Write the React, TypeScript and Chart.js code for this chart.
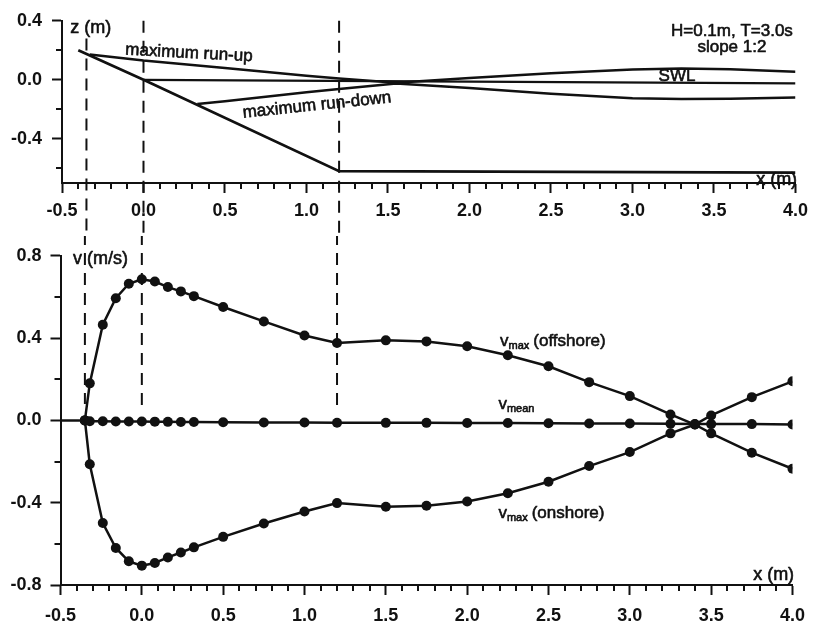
import React, { useEffect, useRef } from 'react';
import { Chart, registerables } from 'chart.js';

Chart.register(...registerables);

// ---------- Top panel: profile and run-up / run-down envelopes ----------
const profileX = [-0.4, 0, 1.2, 4.0];
const profileZ = [0.2, 0, -0.62, -0.63];
const swlX = [0, 4.0];
const swlZ = [0, -0.025];
const runUpX = [-0.33, 0, 0.5, 1.0, 1.2, 1.55, 2.0, 2.5, 3.0, 3.3, 3.6, 4.0];
const runUpZ = [0.172, 0.13, 0.08, 0.028, 0.008, -0.02, 0.012, 0.045, 0.07, 0.077, 0.072, 0.055];
const runDownX = [0.33, 0.5, 1.0, 1.2, 1.55, 2.0, 2.5, 3.0, 3.3, 3.6, 4.0];
const runDownZ = [-0.164, -0.145, -0.085, -0.063, -0.025, -0.055, -0.095, -0.125, -0.13, -0.128, -0.12];

// dashed reference verticals (x positions), their upper end in the top panel, lower end in the bottom panel
const markerX = [-0.35, 0, 1.2];
const markerTopZ = [0.28, 0.4, 0.4];
const markerEndV = [0.08, 0.06, 0.05];
const TOP_DASH_FAR = -1.2; // continues past the top panel's axis
const BOTTOM_DASH_FAR = 1.3; // enters the bottom panel from above

// ---------- Bottom panel: velocities ----------
const vX = [-0.35, -0.32, -0.24, -0.16, -0.08, 0, 0.08, 0.16, 0.24, 0.32, 0.5, 0.75, 1.0, 1.2, 1.5, 1.75, 2.0, 2.25, 2.5, 2.75, 3.0, 3.25, 3.4, 3.5, 3.75, 4.0];
const vOffshore = [0, 0.18, 0.465, 0.594, 0.664, 0.686, 0.675, 0.648, 0.627, 0.604, 0.551, 0.481, 0.413, 0.376, 0.389, 0.384, 0.36, 0.317, 0.263, 0.186, 0.118, 0.029, -0.02, -0.063, -0.157, -0.235];
const vOnshore = [0, -0.213, -0.499, -0.62, -0.685, -0.706, -0.693, -0.666, -0.642, -0.617, -0.566, -0.501, -0.443, -0.402, -0.42, -0.415, -0.394, -0.354, -0.298, -0.222, -0.154, -0.063, -0.02, 0.024, 0.113, 0.19];
const vMean = [0, -0.004, -0.004, -0.005, -0.005, -0.005, -0.006, -0.007, -0.008, -0.008, -0.009, -0.01, -0.01, -0.011, -0.012, -0.012, -0.013, -0.013, -0.014, -0.015, -0.015, -0.016, -0.018, -0.018, -0.018, -0.02];
const zeroLineX = [-0.5, -0.35];
const zeroLineV = [0, 0];

// ---------- Ticks ----------
const xMajorTicks = [-0.5, 0, 0.5, 1.0, 1.5, 2.0, 2.5, 3.0, 3.5, 4.0];
const zMajorTicks = [-0.4, 0, 0.4];
const zMinorTicks = [-0.6, -0.2, 0.2];
const vMajorTicks = [-0.8, -0.4, 0, 0.4, 0.8];
const vMinorTicks = [-0.6, -0.2, 0.2, 0.6];
const xMinorTicks: number[] = [];
for (let i = 0; i <= 45; i++) {
  if (i % 5 !== 0) xMinorTicks.push(Math.round((-0.5 + i * 0.1) * 10) / 10);
}

const INK = '#111111';
const FONT = '"Liberation Sans", Arial, Helvetica, sans-serif';

type Note = {
  text: string;
  x: number;
  y: number;
  align?: CanvasTextAlign;
  rot?: number;
  size?: number;
  sub?: string;
  rest?: string;
};

const topNotes: Note[] = [
  { text: 'z (m)', x: -0.45, y: 0.353, align: 'left', size: 18 },
  { text: 'maximum run-up', x: 0.279, y: 0.18, rot: 3, size: 17 },
  { text: 'maximum run-down', x: 1.064, y: -0.173, rot: -6, size: 17 },
  { text: 'SWL', x: 3.273, y: 0.023, size: 17 },
  { text: 'H=0.1m, T=3.0s', x: 3.61, y: 0.33, size: 17 },
  { text: 'slope 1:2', x: 3.61, y: 0.22, size: 17 },
  { text: 'x (m)', x: 4.01, y: -0.68, align: 'right', size: 18 },
];

const bottomNotes: Note[] = [
  { text: 'v (m/s)', x: -0.423, y: 0.783, align: 'left', size: 18 },
  { text: 'v', sub: 'max', rest: '(offshore)', x: 2.202, y: 0.36, size: 17 },
  { text: 'v', sub: 'mean', rest: '', x: 2.192, y: 0.054, size: 17 },
  { text: 'v', sub: 'max', rest: '(onshore)', x: 2.192, y: -0.472, size: 17 },
  { text: 'x (m)', x: 4.01, y: -0.752, align: 'right', size: 18 },
];

const fmt = (v: number) => (Math.abs(v) < 1e-9 ? '0.0' : v.toFixed(1));

function pts(xs: number[], ys: number[]) {
  return xs.map((x, i) => ({ x, y: ys[i] }));
}

function heavyText(ctx: CanvasRenderingContext2D, t: string, x: number, y: number) {
  ctx.fillText(t, x, y);
  ctx.strokeText(t, x, y);
}

function annotPlugin(notes: Note[], minorX: number[], minorY: number[]) {
  return {
    id: 'annot',
    afterDraw(chart: any) {
      const ctx: CanvasRenderingContext2D = chart.ctx;
      const xs = chart.scales.x;
      const ys = chart.scales.y;
      const { left, bottom } = chart.chartArea;
      ctx.save();
      ctx.strokeStyle = INK;
      ctx.lineWidth = 2;
      minorX.forEach((v) => {
        const p = Math.round(xs.getPixelForValue(v));
        ctx.beginPath();
        ctx.moveTo(p, bottom);
        ctx.lineTo(p, bottom + 6);
        ctx.stroke();
      });
      minorY.forEach((v) => {
        const p = Math.round(ys.getPixelForValue(v));
        ctx.beginPath();
        ctx.moveTo(left, p);
        ctx.lineTo(left - 6, p);
        ctx.stroke();
      });
      ctx.fillStyle = INK;
      ctx.lineWidth = 0.6;
      ctx.lineJoin = 'round';
      notes.forEach((n) => {
        const px = xs.getPixelForValue(n.x);
        const py = ys.getPixelForValue(n.y);
        const size = n.size || 17;
        ctx.save();
        ctx.translate(px, py);
        if (n.rot) ctx.rotate((n.rot * Math.PI) / 180);
        if (n.sub !== undefined) {
          ctx.textAlign = 'left';
          ctx.textBaseline = 'alphabetic';
          ctx.font = `${size}px ${FONT}`;
          heavyText(ctx, n.text, 0, 0);
          let w = ctx.measureText(n.text).width;
          ctx.font = `11px ${FONT}`;
          heavyText(ctx, n.sub, w, 3);
          w += ctx.measureText(n.sub).width + 4;
          if (n.rest) {
            ctx.font = `${size}px ${FONT}`;
            heavyText(ctx, n.rest, w, 0);
          }
        } else {
          ctx.textAlign = n.align || 'center';
          ctx.textBaseline = 'middle';
          ctx.font = `${size}px ${FONT}`;
          heavyText(ctx, n.text, 0, 0);
        }
        ctx.restore();
      });
      ctx.restore();
    },
  };
}

function xScale(min: number, max: number, height: number, pad: number) {
  return {
    type: 'linear',
    min,
    max,
    afterBuildTicks: (s: any) => {
      s.ticks = xMajorTicks.map((v) => ({ value: v }));
    },
    afterFit: (s: any) => {
      s.height = height;
    },
    grid: { drawOnChartArea: false, drawTicks: true, tickLength: 10, tickWidth: 2, tickColor: INK },
    border: { display: true, color: INK, width: 2 },
    ticks: {
      color: INK,
      font: { family: FONT, size: 18, weight: 'bold' },
      padding: pad,
      maxRotation: 0,
      autoSkip: false,
      callback: (v: any) => fmt(Number(v)),
    },
  };
}

function yScale(min: number, max: number, majors: number[], width: number, pad: number) {
  return {
    type: 'linear',
    min,
    max,
    afterBuildTicks: (s: any) => {
      s.ticks = majors.map((v) => ({ value: v }));
    },
    afterFit: (s: any) => {
      s.width = width;
    },
    grid: { drawOnChartArea: false, drawTicks: true, tickLength: 10, tickWidth: 2, tickColor: INK },
    border: { display: true, color: INK, width: 2 },
    ticks: {
      color: INK,
      font: { family: FONT, size: 18, weight: 'bold' },
      padding: pad,
      autoSkip: false,
      callback: (v: any) => fmt(Number(v)),
    },
  };
}

const lineDs = (data: any[], width = 2.5, extra: any = {}) => ({
  data,
  showLine: true,
  borderColor: INK,
  borderWidth: width,
  pointRadius: 0,
  fill: false,
  tension: 0,
  ...extra,
});

const dotDs = (data: any[]) => ({
  data,
  showLine: true,
  borderColor: INK,
  borderWidth: 2.5,
  pointRadius: 5,
  pointBackgroundColor: INK,
  pointBorderColor: INK,
  pointBorderWidth: 0,
  fill: false,
  tension: 0,
});

export default function App() {
  const topRef = useRef<HTMLCanvasElement>(null);
  const botRef = useRef<HTMLCanvasElement>(null);

  useEffect(() => {
    const dashTop = markerX.map((x, i) =>
      lineDs(pts([x, x], [markerTopZ[i], TOP_DASH_FAR]), 2, { borderDash: [12, 8], clip: false })
    );
    const top = new Chart(topRef.current as HTMLCanvasElement, {
      type: 'scatter',
      data: {
        datasets: [
          lineDs(pts(profileX, profileZ), 2.8),
          lineDs(pts(swlX, swlZ), 2.2),
          lineDs(pts(runUpX, runUpZ), 2.5),
          lineDs(pts(runDownX, runDownZ), 2.5),
          ...dashTop,
        ] as any,
      },
      options: {
        responsive: false,
        maintainAspectRatio: false,
        animation: false,
        events: [],
        layout: { padding: { left: 0, right: 19, top: 18, bottom: 0 } },
        plugins: { legend: { display: false }, tooltip: { enabled: false } },
        scales: {
          x: xScale(-0.5, 4.0, 53, 7) as any,
          y: yScale(-0.7, 0.4, zMajorTicks, 62, 10) as any,
        },
      },
      plugins: [annotPlugin(topNotes, xMinorTicks, zMinorTicks)],
    });

    const dashBot = markerX.map((x, i) =>
      lineDs(pts([x, x], [BOTTOM_DASH_FAR, markerEndV[i]]), 2, { borderDash: [12, 8], clip: false })
    );
    const bot = new Chart(botRef.current as HTMLCanvasElement, {
      type: 'scatter',
      data: {
        datasets: [
          lineDs(pts(zeroLineX, zeroLineV), 2.5),
          dotDs(pts(vX, vMean)),
          dotDs(pts(vX, vOffshore)),
          dotDs(pts(vX, vOnshore)),
          ...dashBot,
        ] as any,
      },
      options: {
        responsive: false,
        maintainAspectRatio: false,
        animation: false,
        events: [],
        layout: { padding: { left: 0, right: 20, top: 18, bottom: 0 } },
        plugins: { legend: { display: false }, tooltip: { enabled: false } },
        scales: {
          x: xScale(-0.5, 4.0, 43, 10) as any,
          y: yScale(-0.8, 0.8, vMajorTicks, 60.5, 9) as any,
        },
      },
      plugins: [annotPlugin(bottomNotes, xMinorTicks, vMinorTicks)],
    });

    return () => {
      top.destroy();
      bot.destroy();
    };
  }, []);

  return (
    <div style={{ position: 'fixed', left: 0, top: 0, width: 815, height: 628, background: '#fff' }}>
      <canvas ref={topRef} width={815} height={236} style={{ position: 'absolute', left: 0, top: 0, width: 815, height: 236 }} />
      <canvas ref={botRef} width={815} height={392} style={{ position: 'absolute', left: 0, top: 236, width: 815, height: 392 }} />
    </div>
  );
}
